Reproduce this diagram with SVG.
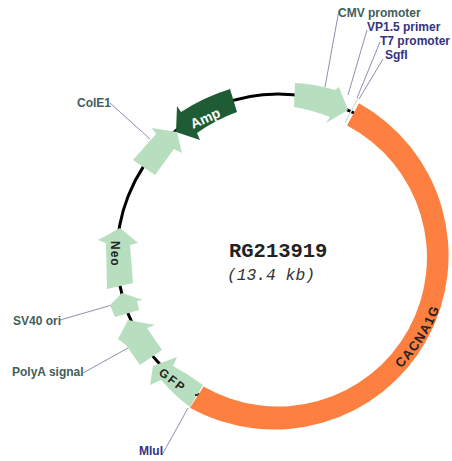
<svg xmlns="http://www.w3.org/2000/svg" width="452" height="461" viewBox="0 0 452 461">
<style>
text{font-family:"Liberation Sans",Arial,sans-serif;font-size:12px;font-weight:bold}
.l{fill:#42605a}.b{fill:#33337f}
.f{fill:#b7dfbf}
.ln{stroke:#8f8fb0;stroke-width:1;fill:none}
.g{fill:#222}
</style>
<defs><path id="arcText" d="M395 374A168 168 0 0 0 446 285"/></defs>
<rect width="452" height="461" fill="#fff"/>
<g id="connectors">
<circle cx="278" cy="255" r="161" fill="none" stroke="#000" stroke-width="3"/>
<path class="ln" d="M325 87L339 10M348 95L367 30M357 98L380 42M359 99L383 59M110 103L150 139M60 320L112 305M83 373L128 348M162 455L188 408"/>
</g>
<g id="cacna1g"><path d="M359 103.3A174 174 0 1 1 190 407.7L203.5 386.6A149 149 0 1 0 347 125.5Z" fill="#fd8040"/><text fill="#222" style="font-size:13px" letter-spacing="1.2"><textPath href="#arcText" startOffset="8">CACNA1G</textPath></text></g>
<g id="cmv"><path class="f" d="M295 83Q316 84 335 90L339 87L348 110L326 123L330 117Q312 110 294 107Z"/><path d="M345 123L358 98" stroke="#cfe8d4" stroke-width="1.5" fill="none"/></g>
<g id="amp"><path d="M230 89L237 112Q215 120 197 133L200 140L176 132L177 106L181 112Q204 97 230 89Z" fill="#1f5c36"/><text transform="translate(193 129) rotate(-24)" fill="#fff" style="font-size:14px">Amp</text></g>
<g id="cole1"><path class="f" d="M133 160L156 134L152 128L177 132L182 153L174 149L155 175Z"/></g>
<g id="neo"><path class="f" d="M120 228L138 243L130 245L133 283L107 289L106 243L98 240Z"/><text transform="translate(111 241) rotate(90)" class="g" letter-spacing="1">Neo</text></g>
<g id="sv40"><path class="f" d="M110 305L122 293L143 300L137 301L139 310L115 317Z"/></g>
<g id="polya"><path class="f" d="M128 320L155 325L147 328L162 350L140 365L126 345L118 339Z"/></g>
<g id="gfp"><path class="f" d="M177 357L173 366Q188 374 203 385L190 407Q175 396 161 380L150 385L153 366Z"/><circle cx="196" cy="395" r="1" fill="#000"/><text transform="translate(158 374) rotate(38)" class="g" letter-spacing="2">GFP</text></g>
<g id="title"><text x="229" y="257" style="font-family:'Liberation Mono',monospace;font-size:20.5px" fill="#222">RG213919</text><text x="227" y="280" style="font-family:'Liberation Mono',monospace;font-size:16.3px;font-weight:normal;font-style:italic" fill="#333">(13.4 kb)</text></g>
<g id="labels">
<text class="l" x="338" y="17">CMV promoter</text>
<text class="b" x="367" y="31">VP1.5 primer</text>
<text class="b" x="380" y="45">T7 promoter</text>
<text class="b" x="385" y="59">SgfI</text>
<text class="l" x="77" y="107">ColE1</text>
<text class="l" x="13" y="325">SV40 ori</text>
<text class="l" x="12" y="376">PolyA signal</text>
<text class="b" x="139" y="455">MluI</text>
</g>
</svg>
